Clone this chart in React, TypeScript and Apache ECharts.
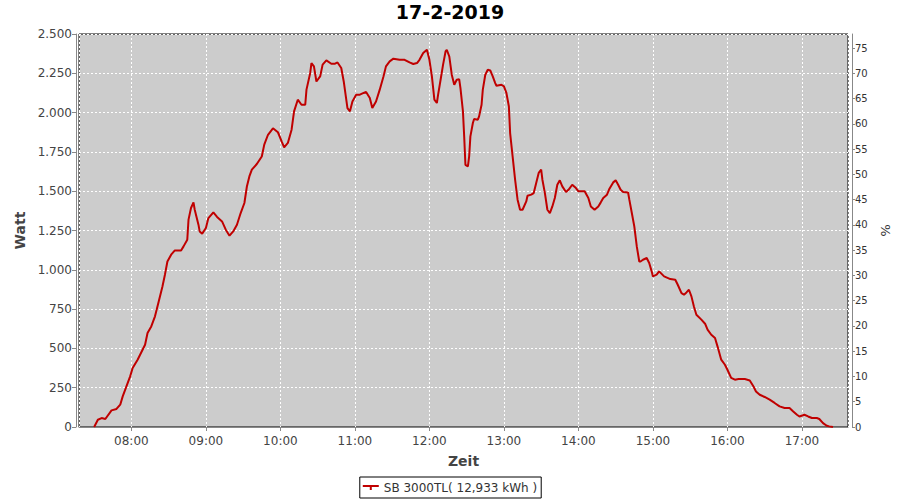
import React, { useEffect, useRef } from "react";
import * as echarts from "echarts";

const title = "17-2-2019";
const seriesName = "SB 3000TL( 12,933 kWh )";

const times = [
  "07:30","07:33","07:36","07:39","07:44","07:48","07:51","07:53","07:56","07:59",
  "08:01","08:05","08:07","08:11","08:13","08:16","08:19","08:22","08:25","08:27",
  "08:29","08:32","08:35","08:40","08:42","08:45","08:46","08:48","08:50","08:51",
  "08:54","08:55","08:57","09:00","09:02","09:06","09:09","09:13","09:16","09:19",
  "09:22","09:25","09:28","09:31","09:33","09:35","09:37","09:41","09:45","09:47",
  "09:50","09:54","09:58","10:01","10:03","10:06","10:09","10:11","10:14","10:17",
  "10:20","10:21","10:24","10:25","10:27","10:29","10:32","10:34","10:37","10:41",
  "10:44","10:46","10:49","10:51","10:54","10:56","10:58","11:01","11:04","11:07",
  "11:09","11:12","11:14","11:17","11:20","11:23","11:25","11:28","11:31","11:36",
  "11:40","11:44","11:47","11:50","11:52","11:55","11:58","12:00","12:02","12:04",
  "12:06","12:07","12:09","12:11","12:13","12:14","12:16","12:18","12:20","12:22",
  "12:24","12:25","12:27","12:28","12:29","12:31","12:32","12:33","12:35","12:36",
  "12:39","12:40","12:42","12:43","12:45","12:47","12:49","12:51","12:53","12:54",
  "12:58","13:00","13:02","13:04","13:05","13:07","13:09","13:11","13:13","13:15",
  "13:18","13:19","13:22","13:24","13:26","13:28","13:30","13:31","13:33","13:35",
  "13:37","13:39","13:41","13:43","13:45","13:47","13:50","13:52","13:55","13:58",
  "14:00","14:05","14:08","14:10","14:13","14:16","14:18","14:20","14:23","14:25",
  "14:28","14:30","14:32","14:34","14:36","14:40","14:41","14:43","14:45","14:47",
  "14:49","14:50","14:52","14:55","14:57","14:59","15:00","15:03","15:05","15:09",
  "15:14","15:18","15:20","15:23","15:25","15:27","15:29","15:31","15:33","15:35",
  "15:39","15:42","15:44","15:47","15:50","15:52","15:55","15:58","16:00","16:03",
  "16:06","16:09","16:14","16:18","16:21","16:23","16:26","16:30","16:34","16:38",
  "16:42","16:46","16:50","16:53","16:56","16:58","17:02","17:05","17:08","17:12",
  "17:14","17:17","17:20","17:22","17:25"
];

const watts = [
  0,46,57,51,106,115,142,195,258,322,
  375,428,460,523,598,640,704,799,894,969,
  1053,1096,1123,1123,1149,1191,1319,1393,1429,1382,
  1287,1244,1230,1266,1329,1365,1336,1308,1255,1217,
  1244,1287,1361,1425,1530,1594,1637,1673,1721,1796,
  1859,1900,1875,1817,1779,1807,1891,2008,2082,2050,
  2050,2146,2252,2315,2294,2198,2230,2305,2332,2311,
  2311,2319,2284,2198,2029,2008,2071,2114,2114,2125,
  2131,2093,2029,2071,2146,2230,2294,2326,2343,2336,
  2336,2319,2309,2315,2336,2379,2400,2336,2230,2082,
  2061,2114,2209,2305,2389,2400,2357,2241,2177,2209,
  2212,2156,2008,1849,1668,1658,1721,1849,1934,1959,
  1955,1976,2050,2146,2241,2273,2268,2230,2188,2171,
  2177,2167,2125,2039,1870,1721,1573,1446,1382,1382,
  1435,1471,1478,1488,1552,1616,1637,1573,1488,1382,
  1361,1403,1457,1541,1569,1531,1495,1509,1541,1520,
  1499,1499,1457,1403,1382,1403,1429,1457,1478,1516,
  1556,1569,1541,1509,1495,1492,1446,1361,1276,1149,
  1053,1053,1064,1075,1043,990,958,969,990,958,
  941,937,905,852,842,856,873,831,767,714,
  683,657,619,587,566,513,428,396,364,312,
  301,305,305,296,258,226,205,191,174,153,
  131,121,121,99,78,67,78,67,57,57,
  51,25,8,4,0
];

const wattTicks = { min: 0, max: 2500, interval: 250 };
const pctTicks = { min: 0, max: 77.8, interval: 5 };

const FONT = "DejaVu Sans";

function ts(s: string, sec = 0): number {
  const [h, m] = s.split(":").map(Number);
  return new Date(2019, 1, 17, h, m, sec).getTime();
}

function fmtThousands(v: number): string {
  if (v >= 1000) {
    const k = Math.floor(v / 1000);
    const r = String(Math.round(v % 1000)).padStart(3, "0");
    return k + "." + r;
  }
  return String(v);
}

export default function App() {
  const ref = useRef<HTMLDivElement>(null);
  useEffect(() => {
    if (!ref.current) return;
    const chart = echarts.init(ref.current, undefined, { renderer: "svg" });
    const data = times.map((t, i) => [ts(t), watts[i]]);
    chart.setOption({
      animation: false,
      backgroundColor: "#ffffff",
      textStyle: { fontFamily: FONT },
      title: {
        text: title,
        left: "center",
        top: -3,
        textStyle: { fontFamily: FONT, fontSize: 19, fontWeight: "bold", color: "#000" },
      },
      grid: {
        left: 79,
        top: 34,
        right: 52,
        bottom: 73,
        show: true,
        backgroundColor: "#cccccc",
        borderColor: "#000000",
        borderWidth: 1,
      },
      legend: {
        top: 477,
        left: "center",
        borderColor: "#000",
        borderWidth: 1,
        borderRadius: 0,
        padding: [3, 4, 3, 3],
        itemWidth: 16,
        itemHeight: 5,
        itemGap: 5,
        icon: "path://M0,0h16v2H0z M7,2h2v3H7z",
        textStyle: { fontFamily: FONT, fontSize: 12, color: "#333", lineHeight: 15 },
        data: [seriesName],
      },
      xAxis: {
        type: "time",
        min: ts("07:17", 48),
        max: ts("17:37", 6),
        minInterval: 3600 * 1000,
        maxInterval: 3600 * 1000,
        offset: 4,
        name: "Zeit",
        nameLocation: "middle",
        nameGap: 23,
        nameTextStyle: { fontFamily: FONT, fontSize: 14, fontWeight: "bold", color: "#444" },
        axisLine: { show: true, lineStyle: { color: "#888", width: 1 } },
        axisTick: { show: true, length: 4, lineStyle: { color: "#888" } },
        axisLabel: {
          formatter: "{HH}:{mm}",
          showMinLabel: false,
          showMaxLabel: false,
          fontFamily: FONT,
          fontSize: 12,
          color: "#444",
          margin: 4,
        },
        splitLine: { show: true, lineStyle: { color: "#ffffff", type: [2, 2], width: 1 } },
      },
      yAxis: [
        {
          type: "value",
          position: "left",
          min: wattTicks.min,
          max: wattTicks.max,
          interval: wattTicks.interval,
          offset: 3,
          name: "Watt",
          nameLocation: "middle",
          nameGap: 47,
          nameTextStyle: { fontFamily: FONT, fontSize: 14, fontWeight: "bold", color: "#444" },
          axisLine: { show: true, lineStyle: { color: "#888", width: 1 } },
          axisTick: { show: true, length: 4, lineStyle: { color: "#888" } },
          axisLabel: {
            formatter: (v: number) => fmtThousands(v),
            fontFamily: FONT,
            fontSize: 12,
            color: "#444",
            margin: 4,
          },
          splitLine: { show: true, lineStyle: { color: "#ffffff", type: [2, 2], width: 1 } },
        },
        {
          type: "value",
          position: "right",
          min: pctTicks.min,
          max: pctTicks.max,
          interval: pctTicks.interval,
          offset: 4,
          name: "%",
          nameLocation: "middle",
          nameGap: 24,
          nameRotate: -90,
          nameTextStyle: { fontFamily: FONT, fontSize: 13, color: "#333" },
          axisLine: { show: true, lineStyle: { color: "#888", width: 1 } },
          axisTick: { show: true, length: 3, lineStyle: { color: "#888" } },
          axisLabel: {
            showMaxLabel: false,
            fontFamily: FONT,
            fontSize: 10,
            color: "#333",
            margin: 3,
          },
          splitLine: { show: false },
        },
      ],
      series: [
        {
          name: seriesName,
          type: "line",
          yAxisIndex: 0,
          data,
          showSymbol: false,
          symbol: "none",
          color: "#c00000",
          lineStyle: { color: "#c00000", width: 2 },
        },
      ],
    });
    return () => chart.dispose();
  }, []);
  return (
    <div
      ref={ref}
      style={{ position: "absolute", left: 0, top: 0, width: 900, height: 500 }}
    />
  );
}
